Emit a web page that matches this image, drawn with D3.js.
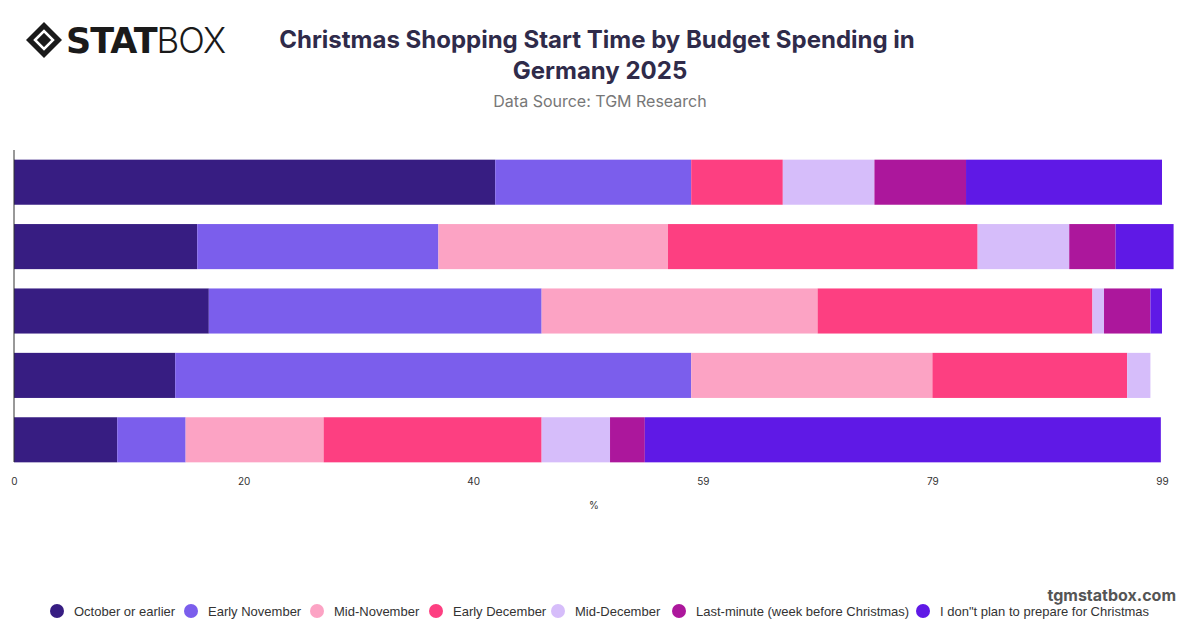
<!DOCTYPE html>
<html><head><meta charset="utf-8">
<script src="https://cdn.jsdelivr.net/npm/d3@7"></script>
<style>body{margin:0;background:#fff;font-family:Inter,"Open Sans",sans-serif}</style>
</head><body><svg id="c" width="1200" height="628"></svg>
<script>
var rows = ["r1","r2","r3","r4","r5"];
var seriesNames = ["October or earlier","Early November","Mid-November","Early December","Mid-December","Last-minute (week before Christmas)","I don\"t plan to prepare for Christmas"];
var colors = ["#371d82","#7b5eec","#fca3c4","#fd3f81","#d6bdfa","#ac179c","#5f19e6"];
var octEarlier = [41.5, 15.8, 16.8, 13.9, 8.9];
var earlyNov   = [16.9, 20.8, 28.7, 44.5, 5.9];
var midNov     = [0, 19.8, 23.8, 20.8, 11.9];
var earlyDec   = [7.9, 26.7, 23.7, 16.8, 18.8];
var midDec     = [7.9, 7.9, 1.0, 2.0, 5.9];
var lastMin    = [7.9, 4.0, 4.0, 0, 3.0];
var noPlan     = [16.9, 5.0, 1.0, 0, 44.5];
var xMax = 99;

var table = rows.map(function(r,i){
  return {row:r, s0:octEarlier[i], s1:earlyNov[i], s2:midNov[i], s3:earlyDec[i], s4:midDec[i], s5:lastMin[i], s6:noPlan[i]};
});
var keys = ["s0","s1","s2","s3","s4","s5","s6"];
var stacked = d3.stack().keys(keys)(table);

var svg = d3.select("#c");
var x = d3.scaleLinear().domain([0,xMax]).range([14,1162]);
var y = d3.scaleBand().domain(rows).range([150,472]).paddingInner(0.3).paddingOuter(0.15);

svg.append("g").selectAll("g").data(stacked).enter().append("g")
  .attr("fill", function(d,i){ return colors[i]; })
  .selectAll("rect").data(function(d){ return d; }).enter().append("rect")
  .attr("x", function(d){ return x(d[0]); })
  .attr("width", function(d){ return Math.max(0, x(d[1]) - x(d[0])); })
  .attr("y", function(d){ return y(d.data.row); })
  .attr("height", y.bandwidth());

// axes
svg.append("line").attr("x1",14).attr("x2",14).attr("y1",150).attr("y2",462).attr("stroke","#333");
var ticks = d3.range(0,6).map(function(i){ return xMax*i/5; });
var xa = svg.append("g").attr("transform","translate(0,472)")
  .call(d3.axisBottom(x).tickValues(ticks).tickSize(0).tickFormat(function(d){ return Math.round(d); }));
xa.select(".domain").remove();
xa.selectAll("text").attr("dy","1em").attr("font-size",10).attr("fill","#333").attr("font-family","Inter,sans-serif");
svg.append("text").attr("x",594).attr("y",509).attr("text-anchor","middle").attr("font-size",10).attr("fill","#333").text("%");

// titles
svg.append("text").attr("x",597).attr("y",48).attr("text-anchor","middle").attr("font-size",24).attr("font-weight",700).attr("fill","#2f2b4a").text("Christmas Shopping Start Time by Budget Spending in");
svg.append("text").attr("x",600).attr("y",79).attr("text-anchor","middle").attr("font-size",24).attr("font-weight",700).attr("fill","#2f2b4a").text("Germany 2025");
svg.append("text").attr("x",600).attr("y",107).attr("text-anchor","middle").attr("font-size",16).attr("fill","#777").text("Data Source: TGM Research");

// logo
var lg = svg.append("g").attr("transform","translate(44,40)");
lg.append("path").attr("d","M-18,0 L0,-18 L18,0 L0,18 Z").attr("fill","#1a1a1a");
lg.append("path").attr("d","M-9,0 L0,-9 L9,0 L0,9 Z").attr("fill","none").attr("stroke","#fff").attr("stroke-width",2.5);
svg.append("text").attr("x",66).attr("y",53).attr("font-size",35).attr("font-weight",900).attr("fill","#1a1a1a").attr("font-family","'DejaVu Sans',sans-serif").attr("letter-spacing",-1)
  .text("STAT").append("tspan").attr("font-weight",300).attr("font-family","Inter,sans-serif").text("BOX");

// legend
var lx = [57,191,317,436,558,679,923];
var leg = svg.append("g");
seriesNames.forEach(function(n,i){
  leg.append("circle").attr("cx",lx[i]).attr("cy",611).attr("r",7).attr("fill",colors[i]);
  leg.append("text").attr("x",lx[i]+17).attr("y",616).attr("font-size",13).attr("font-family","'Liberation Sans',Arial,sans-serif").attr("fill","#333").text(n);
});
svg.append("text").attr("x",1176).attr("y",601).attr("text-anchor","end").attr("font-size",16).attr("font-weight",700).attr("fill","#555").text("tgmstatbox.com");
</script></body></html>
